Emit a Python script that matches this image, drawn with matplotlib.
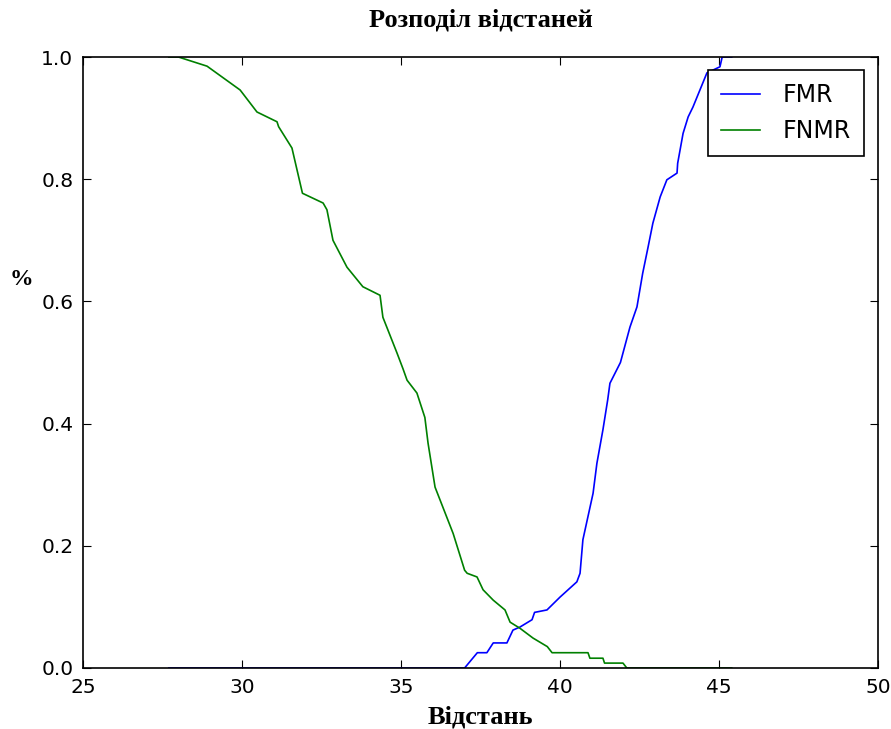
import matplotlib.pyplot as plt

# distance thresholds and error rates
fmr_x = [27.7, 37.0, 37.4, 37.7, 37.9, 38.33, 38.52, 38.74, 39.12, 39.2, 39.59,
         40.0, 40.53, 40.63, 40.72, 41.04, 41.16, 41.35, 41.5, 41.57, 41.9, 42.2,
         42.42, 42.6, 42.77, 42.92, 43.15, 43.36, 43.68, 43.7, 43.87, 44.03, 44.18,
         44.4, 44.62, 45.03, 45.1, 45.4]
fmr_y = [0.0, 0.0, 0.025, 0.025, 0.041, 0.041, 0.062, 0.067, 0.079, 0.091, 0.095,
         0.116, 0.141, 0.155, 0.21, 0.286, 0.335, 0.39, 0.439, 0.466, 0.5, 0.558,
         0.591, 0.646, 0.689, 0.728, 0.771, 0.799, 0.81, 0.826, 0.875, 0.902, 0.918,
         0.946, 0.974, 0.984, 1.0, 1.0]

fnmr_x = [27.7, 28.0, 28.9, 29.94, 30.47, 31.1, 31.15, 31.57, 31.9, 32.55, 32.67,
          32.86, 33.3, 33.8, 34.34, 34.43, 34.87, 35.06, 35.19, 35.5, 35.75, 35.85,
          36.07, 36.64, 37.0, 37.08, 37.39, 37.58, 37.9, 38.27, 38.43, 38.74, 39.15,
          39.6, 39.75, 40.88, 40.94, 41.35, 41.4, 41.98, 42.1, 45.4]
fnmr_y = [1.0, 1.0, 0.985, 0.946, 0.91, 0.894, 0.886, 0.851, 0.777, 0.761, 0.75,
          0.70, 0.656, 0.624, 0.61, 0.574, 0.516, 0.49, 0.471, 0.45, 0.41, 0.368,
          0.296, 0.22, 0.16, 0.155, 0.149, 0.128, 0.111, 0.095, 0.075, 0.065, 0.049,
          0.035, 0.025, 0.025, 0.016, 0.016, 0.008, 0.008, 0.0, 0.0]

fig = plt.figure(figsize=(8.91, 7.29), dpi=100)
ax = fig.add_axes([0.0932, 0.0837, 0.8922, 0.8381])

ax.plot(fmr_x, fmr_y, color="b", lw=1.2, label="FMR")
ax.plot(fnmr_x, fnmr_y, color="g", lw=1.2, label="FNMR")

ax.set_xlim(25, 50)
ax.set_ylim(0, 1)
ax.set_xticks([25, 30, 35, 40, 45, 50])
ax.set_yticks([0.0, 0.2, 0.4, 0.6, 0.8, 1.0])
ax.tick_params(direction="in", top=True, right=True, length=6, labelsize=14.5, pad=7)
for s in ax.spines.values():
    s.set_linewidth(1.2)

serif = "Liberation Serif"
ax.set_title("Розподіл відстаней", family=serif, fontweight="bold", fontsize=19, pad=22)
ax.set_xlabel("Відстань", family=serif, fontweight="bold", fontsize=19, labelpad=6)
ax.set_ylabel("%", family=serif, fontweight="bold", fontsize=17, rotation=0)
ax.yaxis.set_label_coords(-0.077, 0.619)

leg = ax.legend(loc="upper right", fontsize=17, fancybox=False, framealpha=1,
                edgecolor="black", borderpad=0.55, borderaxespad=0,
                handlelength=1.65, handletextpad=0.95, labelspacing=0.5,
                bbox_to_anchor=(0.9824, 0.9787))
leg.get_frame().set_linewidth(1.2)

fig.savefig("out.png", dpi=100)
